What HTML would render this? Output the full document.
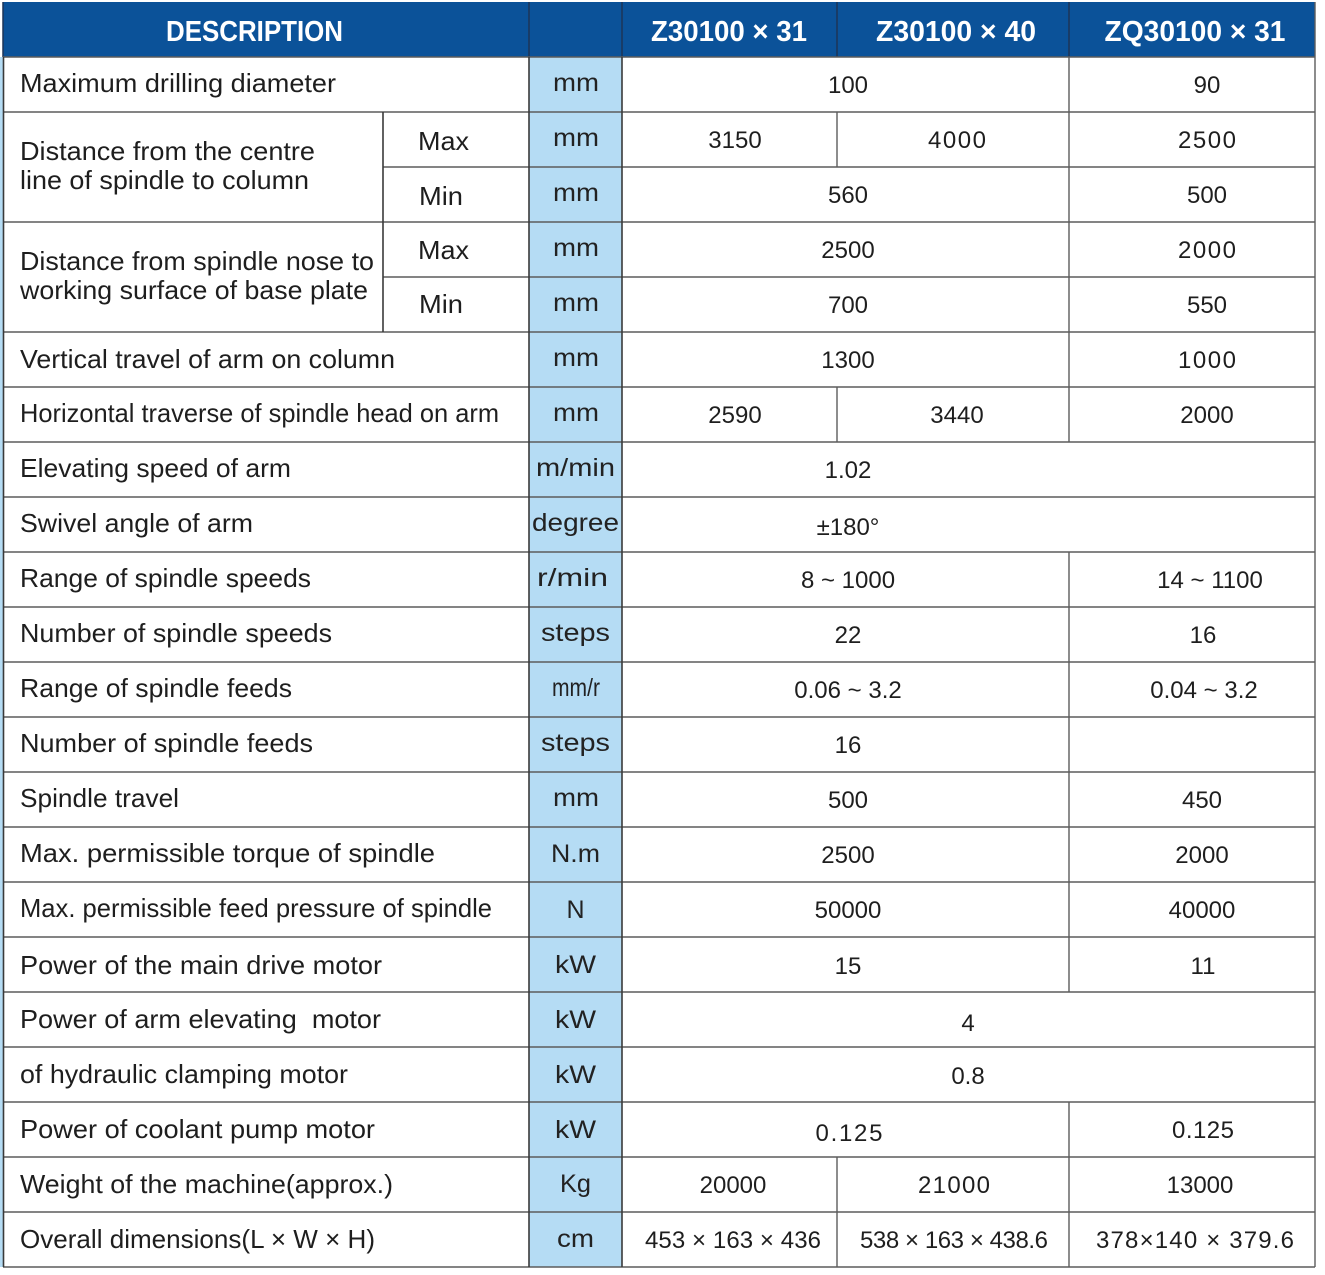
<!DOCTYPE html>
<html><head><meta charset="utf-8"><style>
html,body{margin:0;padding:0;background:#fff;}
svg{display:block;}
.d{font-family:"Liberation Sans",sans-serif;font-size:26px;fill:#1e1e1e;}
.u{font-family:"Liberation Sans",sans-serif;font-size:25px;fill:#222;text-anchor:middle;}
.v{font-family:"Liberation Sans",sans-serif;font-size:24px;fill:#1e1e1e;text-anchor:middle;}
.h{font-family:"Liberation Sans",sans-serif;font-size:29px;font-weight:bold;fill:#fff;text-anchor:middle;}
</style></head><body>
<svg width="1325" height="1275" viewBox="0 0 1325 1275" xmlns="http://www.w3.org/2000/svg">
<rect x="0" y="0" width="1325" height="1275" fill="#fff"/>
<rect x="0" y="57" width="3" height="1210" fill="#b5dcf4"/>
<rect x="529" y="57" width="93" height="1210" fill="#b5dcf4"/>
<rect x="3" y="2" width="1312" height="55" fill="#0b5299"/>
<g stroke="#1c3458" stroke-width="1.5">
<line x1="529" y1="2" x2="529" y2="57"/>
<line x1="622" y1="2" x2="622" y2="57"/>
<line x1="837" y1="2" x2="837" y2="57"/>
<line x1="1069" y1="2" x2="1069" y2="57"/>
<line x1="3" y1="2" x2="3" y2="57"/>
</g>
<text class="h" x="254.5" y="41" textLength="177" lengthAdjust="spacingAndGlyphs">DESCRIPTION</text>
<text class="h" x="729" y="41" textLength="156" lengthAdjust="spacingAndGlyphs">Z30100 × 31</text>
<text class="h" x="956" y="41" textLength="160" lengthAdjust="spacingAndGlyphs">Z30100 × 40</text>
<text class="h" x="1195" y="41" textLength="181" lengthAdjust="spacingAndGlyphs">ZQ30100 × 31</text>

<g stroke="#5c5c5c" stroke-width="1.6" fill="none">
<line x1="3" y1="57" x2="1315" y2="57"/>
<line x1="3" y1="112" x2="1315" y2="112"/>
<line x1="383" y1="167" x2="1315" y2="167"/>
<line x1="3" y1="222" x2="1315" y2="222"/>
<line x1="383" y1="277" x2="1315" y2="277"/>
<line x1="3" y1="332" x2="1315" y2="332"/>
<line x1="3" y1="387" x2="1315" y2="387"/>
<line x1="3" y1="442" x2="1315" y2="442"/>
<line x1="3" y1="497" x2="1315" y2="497"/>
<line x1="3" y1="552" x2="1315" y2="552"/>
<line x1="3" y1="607" x2="1315" y2="607"/>
<line x1="3" y1="662" x2="1315" y2="662"/>
<line x1="3" y1="717" x2="1315" y2="717"/>
<line x1="3" y1="772" x2="1315" y2="772"/>
<line x1="3" y1="827" x2="1315" y2="827"/>
<line x1="3" y1="882" x2="1315" y2="882"/>
<line x1="3" y1="937" x2="1315" y2="937"/>
<line x1="3" y1="992" x2="1315" y2="992"/>
<line x1="3" y1="1047" x2="1315" y2="1047"/>
<line x1="3" y1="1102" x2="1315" y2="1102"/>
<line x1="3" y1="1157" x2="1315" y2="1157"/>
<line x1="3" y1="1212" x2="1315" y2="1212"/>
<line x1="3" y1="1267" x2="1315" y2="1267"/>
</g>
<g stroke="#3a3a3a" stroke-width="1.6" fill="none">
<line x1="3.5" y1="57" x2="3.5" y2="1267"/>
<line x1="529" y1="57" x2="529" y2="1267"/>
<line x1="622" y1="57" x2="622" y2="1267"/>
<line x1="383" y1="112" x2="383" y2="332"/>
</g>
<g stroke="#5c5c5c" stroke-width="1.4" fill="none">
<line x1="1315" y1="2" x2="1315" y2="1267"/>
<line x1="837" y1="112" x2="837" y2="167"/>
<line x1="837" y1="387" x2="837" y2="442"/>
<line x1="837" y1="1157" x2="837" y2="1267"/>
<line x1="1069" y1="57" x2="1069" y2="442"/>
<line x1="1069" y1="552" x2="1069" y2="992"/>
<line x1="1069" y1="1102" x2="1069" y2="1267"/>
</g>

<g lengthAdjust="spacingAndGlyphs">
<text class="d" x="20" y="92" textLength="316" lengthAdjust="spacingAndGlyphs">Maximum drilling diameter</text>
<text class="d" x="20" y="160" textLength="295" lengthAdjust="spacingAndGlyphs">Distance from the centre</text>
<text class="d" x="20" y="189" textLength="289" lengthAdjust="spacingAndGlyphs">line of spindle to column</text>
<text class="d" x="20" y="270" textLength="354" lengthAdjust="spacingAndGlyphs">Distance from spindle nose to</text>
<text class="d" x="20" y="299" textLength="348" lengthAdjust="spacingAndGlyphs">working surface of base plate</text>
<text class="d" x="20" y="368" textLength="375" lengthAdjust="spacingAndGlyphs">Vertical travel of arm on column</text>
<text class="d" x="20" y="422" textLength="479" lengthAdjust="spacingAndGlyphs">Horizontal traverse of spindle head on arm</text>
<text class="d" x="20" y="477" textLength="271" lengthAdjust="spacingAndGlyphs">Elevating speed of arm</text>
<text class="d" x="20" y="532" textLength="233" lengthAdjust="spacingAndGlyphs">Swivel angle of arm</text>
<text class="d" x="20" y="587" textLength="291" lengthAdjust="spacingAndGlyphs">Range of spindle speeds</text>
<text class="d" x="20" y="642" textLength="312" lengthAdjust="spacingAndGlyphs">Number of spindle speeds</text>
<text class="d" x="20" y="697" textLength="272" lengthAdjust="spacingAndGlyphs">Range of spindle feeds</text>
<text class="d" x="20" y="752" textLength="293" lengthAdjust="spacingAndGlyphs">Number of spindle feeds</text>
<text class="d" x="20" y="807" textLength="159" lengthAdjust="spacingAndGlyphs">Spindle travel</text>
<text class="d" x="20" y="862" textLength="415" lengthAdjust="spacingAndGlyphs">Max. permissible torque of spindle</text>
<text class="d" x="20" y="917" textLength="472" lengthAdjust="spacingAndGlyphs">Max. permissible feed pressure of spindle</text>
<text class="d" x="20" y="974" textLength="362" lengthAdjust="spacingAndGlyphs">Power of the main drive motor</text>
<text class="d" x="20" y="1028" textLength="361" lengthAdjust="spacingAndGlyphs" xml:space="preserve">Power of arm elevating  motor</text>
<text class="d" x="20" y="1083" textLength="328" lengthAdjust="spacingAndGlyphs">of hydraulic clamping motor</text>
<text class="d" x="20" y="1138" textLength="355" lengthAdjust="spacingAndGlyphs">Power of coolant pump motor</text>
<text class="d" x="20" y="1193" textLength="373" lengthAdjust="spacingAndGlyphs">Weight of the machine(approx.)</text>
<text class="d" x="20" y="1248" textLength="355" lengthAdjust="spacingAndGlyphs">Overall dimensions(L × W × H)</text>

<text class="d" x="418" y="150" textLength="51" lengthAdjust="spacingAndGlyphs">Max</text>
<text class="d" x="419" y="205" textLength="44" lengthAdjust="spacingAndGlyphs">Min</text>
<text class="d" x="418" y="259" textLength="51" lengthAdjust="spacingAndGlyphs">Max</text>
<text class="d" x="419" y="313" textLength="44" lengthAdjust="spacingAndGlyphs">Min</text>
</g>

<text class="u" x="576" y="91" textLength="46" lengthAdjust="spacingAndGlyphs">mm</text>
<text class="u" x="576" y="146" textLength="46" lengthAdjust="spacingAndGlyphs">mm</text>
<text class="u" x="576" y="201" textLength="46" lengthAdjust="spacingAndGlyphs">mm</text>
<text class="u" x="576" y="256" textLength="46" lengthAdjust="spacingAndGlyphs">mm</text>
<text class="u" x="576" y="311" textLength="46" lengthAdjust="spacingAndGlyphs">mm</text>
<text class="u" x="576" y="366" textLength="46" lengthAdjust="spacingAndGlyphs">mm</text>
<text class="u" x="576" y="421" textLength="46" lengthAdjust="spacingAndGlyphs">mm</text>
<text class="u" x="575.5" y="476" textLength="79" lengthAdjust="spacingAndGlyphs">m/min</text>
<text class="u" x="575.5" y="531" textLength="87" lengthAdjust="spacingAndGlyphs">degree</text>
<text class="u" x="572.5" y="586" textLength="71" lengthAdjust="spacingAndGlyphs">r/min</text>
<text class="u" x="575.5" y="641" textLength="69" lengthAdjust="spacingAndGlyphs">steps</text>
<text class="u" x="576" y="696" textLength="48" lengthAdjust="spacingAndGlyphs">mm/r</text>
<text class="u" x="575.5" y="751" textLength="69" lengthAdjust="spacingAndGlyphs">steps</text>
<text class="u" x="576" y="806" textLength="46" lengthAdjust="spacingAndGlyphs">mm</text>
<text class="u" x="575.5" y="862" textLength="49" lengthAdjust="spacingAndGlyphs">N.m</text>
<text class="u" x="575.5" y="918">N</text>
<text class="u" x="575.5" y="973" textLength="41" lengthAdjust="spacingAndGlyphs">kW</text>
<text class="u" x="575.5" y="1028" textLength="41" lengthAdjust="spacingAndGlyphs">kW</text>
<text class="u" x="575.5" y="1083" textLength="41" lengthAdjust="spacingAndGlyphs">kW</text>
<text class="u" x="575.5" y="1138" textLength="41" lengthAdjust="spacingAndGlyphs">kW</text>
<text class="u" x="575.5" y="1192" textLength="31" lengthAdjust="spacingAndGlyphs">Kg</text>
<text class="u" x="575.5" y="1247" textLength="37" lengthAdjust="spacingAndGlyphs">cm</text>

<text class="v" x="848" y="93">100</text>
<text class="v" x="1207" y="93">90</text>
<text class="v" x="735" y="148">3150</text>
<text class="v" x="957" y="148" textLength="58">4000</text>
<text class="v" x="1207" y="148" textLength="58">2500</text>
<text class="v" x="848" y="203">560</text>
<text class="v" x="1207" y="203">500</text>
<text class="v" x="848" y="258">2500</text>
<text class="v" x="1207" y="258" textLength="58">2000</text>
<text class="v" x="848" y="313">700</text>
<text class="v" x="1207" y="313">550</text>
<text class="v" x="848" y="368">1300</text>
<text class="v" x="1207" y="368" textLength="58">1000</text>
<text class="v" x="735" y="423">2590</text>
<text class="v" x="957" y="423">3440</text>
<text class="v" x="1207" y="423">2000</text>
<text class="v" x="848" y="478">1.02</text>
<text class="v" x="848" y="535">±180°</text>
<text class="v" x="848" y="588">8 ~ 1000</text>
<text class="v" x="1210" y="588">14 ~ 1100</text>
<text class="v" x="848" y="643">22</text>
<text class="v" x="1203" y="643">16</text>
<text class="v" x="848" y="698">0.06 ~ 3.2</text>
<text class="v" x="1204" y="698">0.04 ~ 3.2</text>
<text class="v" x="848" y="753">16</text>
<text class="v" x="848" y="808">500</text>
<text class="v" x="1202" y="808">450</text>
<text class="v" x="848" y="863">2500</text>
<text class="v" x="1202" y="863">2000</text>
<text class="v" x="848" y="918">50000</text>
<text class="v" x="1202" y="918">40000</text>
<text class="v" x="848" y="974">15</text>
<text class="v" x="1203" y="974">11</text>
<text class="v" x="968" y="1031">4</text>
<text class="v" x="968" y="1084">0.8</text>
<text class="v" x="849" y="1141" textLength="67">0.125</text>
<text class="v" x="1203" y="1138" textLength="62">0.125</text>
<text class="v" x="733" y="1193">20000</text>
<text class="v" x="954" y="1193" textLength="72">21000</text>
<text class="v" x="1200" y="1193">13000</text>
<text class="v" x="733" y="1248" textLength="176">453 × 163 × 436</text>
<text class="v" x="954" y="1248" textLength="188">538 × 163 × 438.6</text>
<text class="v" x="1195" y="1248" textLength="198">378×140 × 379.6</text>
</svg>
</body></html>
